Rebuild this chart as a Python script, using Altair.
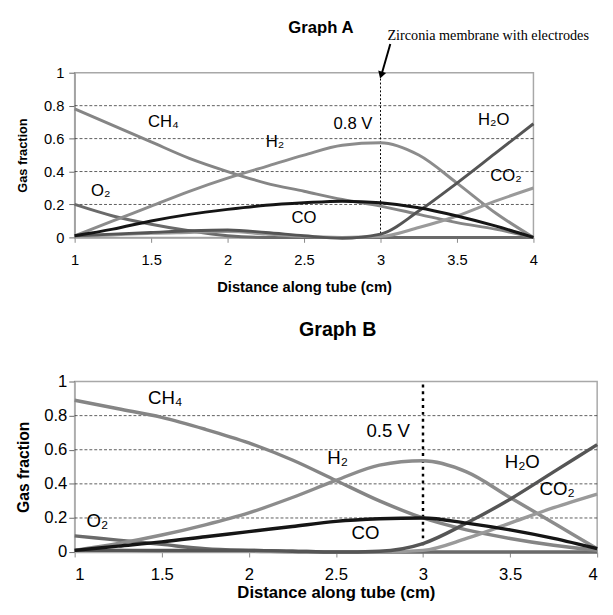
import altair as alt
import pandas as pd

# ---------------- data ----------------
x_grid = [1, 1.25, 1.5, 1.75, 2, 2.25, 2.5, 2.75, 3, 3.25, 3.5, 3.75, 4]
species = ["O2", "CH4", "H2", "CO2", "H2O", "CO"]

# Graph A (0.8 V)
a_o2 = [0.20, 0.13, 0.08, 0.04, 0.01, 0.0, 0.0, 0.0, 0.0, 0.0, 0.0, 0.0, 0.0]
a_ch4 = [0.78, 0.68, 0.58, 0.48, 0.40, 0.33, 0.28, 0.23, 0.19, 0.14, 0.09, 0.05, 0.0]
a_h2 = [0.01, 0.10, 0.19, 0.28, 0.36, 0.43, 0.50, 0.56, 0.575, 0.50, 0.33, 0.15, 0.0]
a_co2 = [0.01, 0.015, 0.025, 0.03, 0.035, 0.02, 0.005, 0.0, 0.005, 0.06, 0.13, 0.22, 0.30]
a_h2o = [0.01, 0.02, 0.03, 0.04, 0.045, 0.03, 0.01, -0.005, 0.02, 0.16, 0.33, 0.51, 0.69]
a_co = [0.01, 0.05, 0.10, 0.14, 0.17, 0.195, 0.21, 0.22, 0.21, 0.18, 0.13, 0.07, 0.0]

# Graph B (0.5 V)
b_o2 = [0.095, 0.07, 0.045, 0.02, 0.01, 0.005, 0.0, 0.0, 0.0, 0.0, 0.0, 0.0, 0.0]
b_ch4 = [0.89, 0.84, 0.79, 0.72, 0.64, 0.54, 0.42, 0.30, 0.20, 0.13, 0.08, 0.04, 0.01]
b_h2 = [0.01, 0.05, 0.10, 0.16, 0.23, 0.32, 0.42, 0.51, 0.535, 0.47, 0.32, 0.17, 0.02]
b_co2 = [0.01, 0.01, 0.005, 0.005, 0.005, 0.0, 0.0, 0.0, 0.01, 0.08, 0.17, 0.26, 0.34]
b_h2o = [0.01, 0.01, 0.01, 0.01, 0.01, 0.005, 0.0, 0.005, 0.05, 0.17, 0.31, 0.47, 0.63]
b_co = [0.01, 0.035, 0.06, 0.09, 0.12, 0.15, 0.18, 0.195, 0.20, 0.17, 0.13, 0.08, 0.02]

colors = ["#6a6a6a", "#858585", "#8c8c8c", "#9a9a9a", "#555555", "#151515"]

x_ticks = [1, 1.5, 2, 2.5, 3, 3.5, 4]
y_ticks = [0, 0.2, 0.4, 0.6, 0.8, 1]
grid_vals = [0.2, 0.4, 0.6, 0.8]

# labels (text, x, y) in data units
a_labels = ["CH₄", "H₂", "O₂", "CO", "0.8 V", "H₂O", "CO₂"]
a_lab_x = [1.58, 2.31, 1.17, 2.50, 2.82, 3.74, 3.82]
a_lab_y = [0.70, 0.58, 0.28, 0.12, 0.69, 0.71, 0.37]

b_labels = ["CH₄", "H₂", "O₂", "CO", "0.5 V", "H₂O", "CO₂"]
b_lab_x = [1.52, 2.51, 1.13, 2.67, 2.80, 3.57, 3.77]
b_lab_y = [0.90, 0.55, 0.18, 0.11, 0.71, 0.53, 0.37]

membrane_x = 3


def long_df(series):
    rows = []
    for sp, vals in zip(species, series):
        for xv, yv in zip(x_grid, vals):
            rows.append({"x": xv, "y": yv, "species": sp})
    return pd.DataFrame(rows)


def panel(series, lab, lab_x, lab_y, w, h, fs, title_txt, title_pos,
          title_fs, line_w, dash_w, dash, border, yt_pad, ylab_pad,
          xlab_pad, xt_pad, flush, annotate=False):
    X = alt.X("x:Q", scale=alt.Scale(domain=[1, 4], nice=False, zero=False),
              axis=alt.Axis(values=x_ticks, format="~g", grid=False,
                            title="Distance along tube (cm)",
                            titleFontSize=fs["xt"], titleFont="Liberation Sans",
                            titleFontWeight="bold", titleColor="black",
                            labelFontSize=fs["tick"], labelFont="Liberation Sans",
                            labelColor="black", tickColor="#888",
                            tickSize=5, domainColor=border, domainWidth=1.5,
                            labelPadding=xlab_pad, titlePadding=xt_pad,
                            labelFlush=flush))
    Y = alt.Y("y:Q", scale=alt.Scale(domain=[0, 1], nice=False),
              axis=alt.Axis(values=y_ticks, format="~g", grid=False,
                            title="Gas fraction",
                            titleFontSize=fs["yt"], titleFont="Liberation Sans",
                            titleFontWeight="bold", titleColor="black",
                            labelFontSize=fs["tick"], labelFont="Liberation Sans",
                            labelColor="black", tickColor="#666",
                            tickSize=6, domainColor=border, domainWidth=1.5,
                            labelPadding=ylab_pad, titlePadding=yt_pad))

    grid = alt.Chart(pd.DataFrame({"y": grid_vals})).mark_rule(
        color="#333", strokeDash=[3, 2], strokeWidth=0.8).encode(y=Y)

    vline = alt.Chart(pd.DataFrame({"x": [membrane_x], "y": [0], "y2": [1]})).mark_rule(
        color="black", strokeDash=dash, strokeWidth=dash_w).encode(x=X, y=Y, y2="y2:Q")

    lines = alt.Chart(long_df(series)).mark_line(
        interpolate="monotone", strokeWidth=line_w).encode(
        x=X, y=Y,
        color=alt.Color("species:N", scale=alt.Scale(domain=species, range=colors),
                        legend=None),
        order=alt.Order("x:Q"))

    labels = alt.Chart(pd.DataFrame({"x": lab_x, "y": lab_y, "label": lab})).mark_text(
        fontSize=fs["lab"], font="Liberation Sans", color="black").encode(
        x=X, y=Y, text="label:N")

    ttl = alt.Chart(pd.DataFrame({"x": [title_pos[0]], "y": [title_pos[1]],
                                  "label": [title_txt]})).mark_text(
        fontSize=title_fs, font="Liberation Sans", fontWeight="bold",
        color="black").encode(x=X, y=Y, text="label:N")

    layers = [grid, vline, lines, labels, ttl]
    if annotate:
        ann = alt.Chart(pd.DataFrame({"x": [3.045], "y": [1.22],
                                      "label": ["Zirconia membrane with electrodes"]})).mark_text(
            fontSize=14.5, font="Liberation Serif", color="black", align="left").encode(
            x=X, y=Y, text="label:N")
        arrow = alt.Chart(pd.DataFrame({"x": [3.064], "y": [1.175],
                                        "x2": [3.01], "y2": [1.0]})).mark_rule(
            color="black", strokeWidth=2).encode(x=X, y=Y, x2="x2:Q", y2="y2:Q")
        head = alt.Chart(pd.DataFrame({"x": [3.004], "y": [0.985]})).mark_point(
            shape="triangle-down", filled=True, color="black", size=70, angle=17,
            opacity=1).encode(x=X, y=Y)
        layers += [ann, arrow, head]

    return alt.layer(*layers).properties(width=w, height=h)


chart_a = panel([a_o2, a_ch4, a_h2, a_co2, a_h2o, a_co], a_labels, a_lab_x, a_lab_y,
                468, 168, {"xt": 15, "yt": 13, "tick": 15, "lab": 17},
                "Graph A", (2.61, 1.27), 17, 3, 1, [2, 2], "#a0a0a0",
                yt_pad=14, ylab_pad=5, xlab_pad=11, xt_pad=12, flush=False,
                annotate=True)

chart_b = panel([b_o2, b_ch4, b_h2, b_co2, b_h2o, b_co], b_labels, b_lab_x, b_lab_y,
                533, 174, {"xt": 17, "yt": 16, "tick": 17, "lab": 19},
                "Graph B", (2.51, 1.30), 20, 3.5, 2.5, [3, 4], "#b0b0b0",
                yt_pad=12, ylab_pad=2, xlab_pad=10, xt_pad=2, flush=True)

chart = alt.vconcat(chart_a, chart_b, spacing=25).properties(
    padding={"left": 7, "top": 4, "right": 0, "bottom": 0}
).configure_view(stroke="#a8a8a8", strokeWidth=1.5)

chart.save("out.html", embed_options={"renderer": "svg", "actions": False})
